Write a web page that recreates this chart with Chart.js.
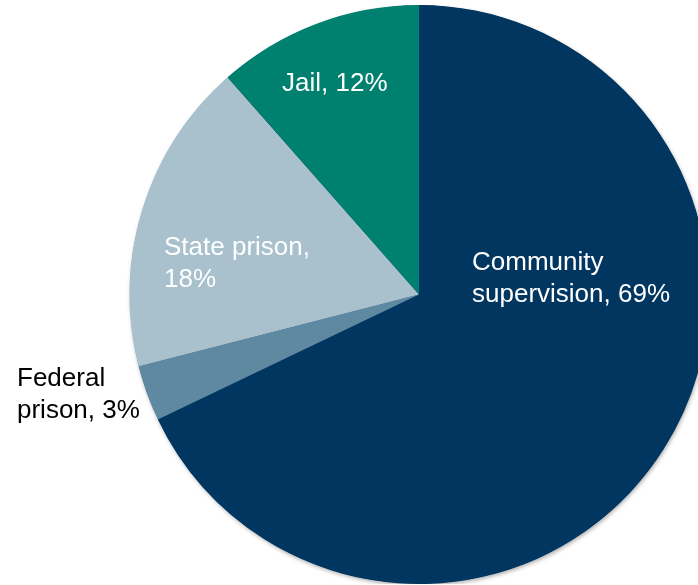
<!DOCTYPE html>
<html>
<head>
<meta charset="utf-8">
<script src="https://cdn.jsdelivr.net/npm/chart.js@4.4.0/dist/chart.umd.min.js"></script>
<style>
  html, body { margin: 0; padding: 0; background: #fff; overflow: hidden; width: 698px; height: 585px; }
  #wrap { position: absolute; left: 0; top: 5px; width: 838px; height: 579px; }
</style>
</head>
<body>
<div id="wrap"><canvas id="chart"></canvas></div>
<script>
const categories = ["Community supervision", "Federal prison", "State prison", "Jail"];
const shares = [67.9, 3.1, 17.5, 11.5];
const labelLines = [
  ["Community", "supervision, 69%"],
  ["Federal", "prison, 3%"],
  ["State prison,", "18%"],
  ["Jail, 12%"]
];
const colors = ["#003660", "#5f88a1", "#a9c0cd", "#00806f"];

// where each label's first line sits, relative to the pie centre
const labelSpots = [
  { dx: 53, dy: -32, color: "#ffffff" },
  { dx: -402, dy: 84, color: "#000000" },
  { dx: -255, dy: -47, color: "#ffffff" },
  { dx: -137, dy: -211, color: "#ffffff" }
];

const pieShadow = {
  id: "pieShadow",
  beforeDatasetsDraw(chart) {
    const arc = chart.getDatasetMeta(0).data[0];
    if (!arc) return;
    const ctx = chart.ctx;
    ctx.save();
    ctx.shadowColor = "rgba(0,0,0,0.35)";
    ctx.shadowBlur = 4;
    ctx.shadowOffsetX = 1;
    ctx.shadowOffsetY = 2;
    ctx.fillStyle = colors[0];
    ctx.beginPath();
    ctx.arc(arc.x, arc.y, arc.outerRadius - 0.5, 0, Math.PI * 2);
    ctx.fill();
    ctx.restore();
  }
};

const sliceLabels = {
  id: "sliceLabels",
  afterDatasetsDraw(chart) {
    const arc = chart.getDatasetMeta(0).data[0];
    if (!arc) return;
    const ctx = chart.ctx;
    ctx.save();
    ctx.font = "26px 'Liberation Sans', Arial, sans-serif";
    ctx.textAlign = "left";
    ctx.textBaseline = "middle";
    labelLines.forEach((lines, i) => {
      const s = labelSpots[i];
      ctx.fillStyle = s.color;
      lines.forEach((t, j) => {
        ctx.fillText(t, arc.x + s.dx, arc.y + s.dy + j * 32);
      });
    });
    ctx.restore();
  }
};

new Chart(document.getElementById("chart"), {
  type: "pie",
  data: {
    labels: categories,
    datasets: [{
      data: shares,
      backgroundColor: colors,
      borderWidth: 0
    }]
  },
  options: {
    responsive: true,
    maintainAspectRatio: false,
    animation: false,
    layout: { padding: 0 },
    plugins: {
      legend: { display: false },
      tooltip: { enabled: false }
    }
  },
  plugins: [pieShadow, sliceLabels]
});
</script>
</body>
</html>
